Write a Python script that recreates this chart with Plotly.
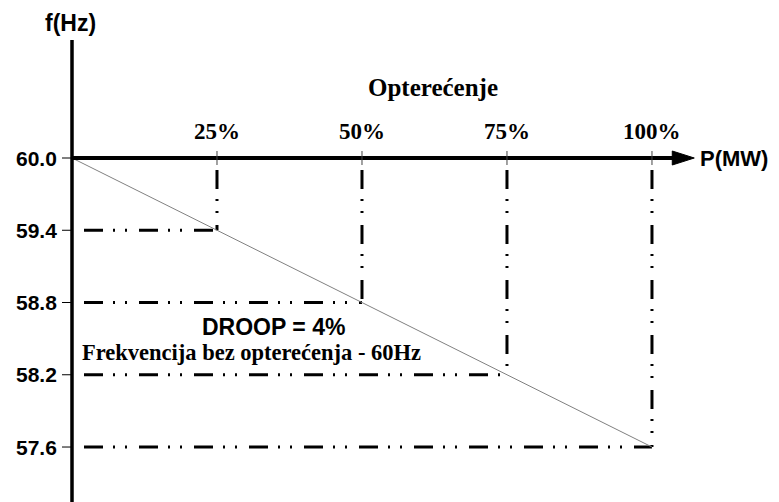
import plotly.graph_objects as go

# ---- data ----
load_pct = [25, 50, 75, 100]
freq_hz = [59.4, 58.8, 58.2, 57.6]
no_load_freq = 60.0
x_tick_labels = ["25%", "50%", "75%", "100%"]
y_tick_values = [60.0, 59.4, 58.8, 58.2, 57.6]
y_tick_labels = ["60.0", "59.4", "58.8", "58.2", "57.6"]
x_title = "Opterećenje"
y_title = "f(Hz)"
p_title = "P(MW)"
droop_text = "DROOP = 4%"
note_text = "Frekvencija bez opterećenja - 60Hz"

SANS = "Liberation Sans, Arial, sans-serif"
SERIF = "Liberation Serif, Times New Roman, serif"
DASH = "0px,12px,19px,10px,2px,10px,2px,0px"

fig = go.Figure()

# droop line
fig.add_trace(go.Scatter(
    x=[0] + load_pct, y=[no_load_freq] + freq_hz,
    mode="lines", line=dict(color="#808080", width=1),
    hoverinfo="skip", showlegend=False))

shapes = []
# guide lines
for p, f in zip(load_pct, freq_hz):
    shapes.append(dict(type="line", xref="x", yref="y", x0=p, x1=p, y0=no_load_freq, y1=f,
                       line=dict(color="black", width=3, dash=DASH), layer="below"))
    shapes.append(dict(type="line", xref="x", yref="y", x0=0, x1=p, y0=f, y1=f,
                       line=dict(color="black", width=3, dash=DASH), layer="below"))

# y axis line
shapes.append(dict(type="line", xref="x", yref="y", x0=0, x1=0, y0=57.0, y1=60.98,
                   line=dict(color="black", width=3.5)))
# x axis line
shapes.append(dict(type="line", xref="x", yref="y", x0=0, x1=104.5, y0=no_load_freq, y1=no_load_freq,
                   line=dict(color="black", width=4)))
# arrow head
shapes.append(dict(type="path", xref="x", yref="y", xsizemode="pixel", ysizemode="pixel",
                   xanchor=103.5, yanchor=no_load_freq,
                   path="M 0 -7 L 22 0 L 0 7 Z", fillcolor="black", line=dict(color="black", width=1)))
# y ticks
for v in y_tick_values:
    shapes.append(dict(type="line", xref="x", yref="y", xsizemode="pixel",
                       xanchor=0, x0=-10, x1=0, y0=v, y1=v,
                       line=dict(color="black", width=1)))
# x ticks
for p in load_pct:
    shapes.append(dict(type="line", xref="x", yref="y", ysizemode="pixel",
                       yanchor=no_load_freq, y0=-7, y1=7, x0=p, x1=p,
                       line=dict(color="#444", width=1)))

annotations = []
for v, t in zip(y_tick_values, y_tick_labels):
    annotations.append(dict(x=0, y=v, xref="x", yref="y", text=t, showarrow=False,
                            xanchor="right", yanchor="middle", xshift=-13,
                            font=dict(family=SANS, size=21, color="black", weight="bold")))
for p, t in zip(load_pct, x_tick_labels):
    annotations.append(dict(x=p, y=no_load_freq, xref="x", yref="y", text=t, showarrow=False,
                            xanchor="center", yanchor="middle", yshift=27,
                            font=dict(family=SERIF, size=23, color="black", weight="bold")))
annotations.append(dict(x=62.2, y=no_load_freq, xref="x", yref="y", text=x_title, showarrow=False,
                        xanchor="center", yanchor="middle", yshift=71,
                        font=dict(family=SERIF, size=25, color="black", weight="bold")))
annotations.append(dict(x=0, y=1, xref="x", yref="paper", text=y_title, showarrow=False,
                        xanchor="center", yanchor="top", yshift=0, xshift=-2,
                        font=dict(family=SANS, size=23, color="black", weight="bold")))
annotations.append(dict(x=0.886, y=no_load_freq, xref="paper", yref="y", text=p_title, showarrow=False,
                        xanchor="left", yanchor="middle",
                        font=dict(family=SANS, size=22, color="black", weight="bold")))
annotations.append(dict(x=34.8, y=58.597, xref="x", yref="y", text=droop_text, showarrow=False,
                        xanchor="center", yanchor="middle",
                        font=dict(family=SANS, size=23, color="black", weight="bold")))
annotations.append(dict(x=30.9, y=58.381, xref="x", yref="y", text=note_text, showarrow=False,
                        xanchor="center", yanchor="middle",
                        font=dict(family=SERIF, size=22.5, color="black", weight="bold")))

# page body has an 8px margin: ranges are set so the drawn marks land on the reference's pixels
fig.update_layout(
    width=779, height=502,
    margin=dict(l=0, r=0, t=0, b=0),
    paper_bgcolor="white", plot_bgcolor="white",
    xaxis=dict(visible=False, range=[-11.034, 123.28]),
    yaxis=dict(visible=False, range=[57.077, 61.2456]),
    shapes=shapes, annotations=annotations, showlegend=False,
)

fig.write_html("out.html")
